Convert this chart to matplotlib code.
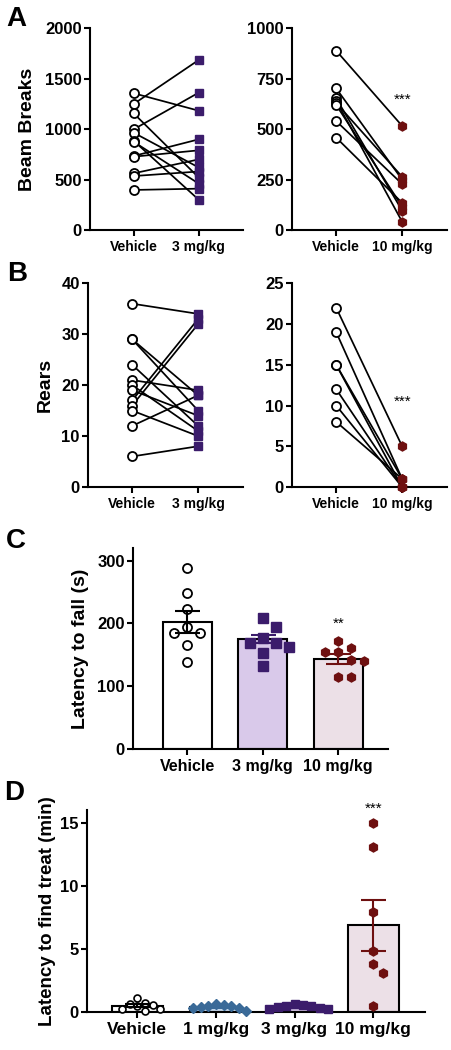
import numpy as np
import matplotlib.pyplot as plt
from matplotlib import transforms

plt.rcParams["font.family"] = ["Liberation Sans", "DejaVu Sans"]
plt.rcParams["font.weight"] = "bold"
plt.rcParams["axes.labelweight"] = "bold"

PURPLE = "#3b1c6b"
DARKRED = "#6e1010"
BLUE = "#3a6a98"

# A: beam breaks, paired per animal
beam_veh_3 = [1356, 1249, 1157, 998, 965, 885, 875, 734, 727, 562, 535, 397]
beam_drug_3 = [1183, 1686, 520, 1362, 620, 300, 460, 899, 790, 700, 580, 410]
beam_veh_10 = [889, 702, 653, 640, 630, 620, 540, 458]
beam_drug_10 = [516, 250, 96, 41, 264, 116, 228, 135]

# B: rears, paired per animal
rears_veh_3 = [36, 29, 29, 24, 21, 20, 19, 17, 16, 15, 12, 6]
rears_drug_3 = [34, 18, 15, 12, 19, 11, 14, 33, 32, 10, 18, 8]
rears_veh_10 = [22, 19, 15, 15, 12, 10, 8]
rears_drug_10 = [5, 1, 0, 1, 0, 0, 1]

# C: latency to fall
rotarod_groups = ["Vehicle", "3 mg/kg", "10 mg/kg"]
rotarod_points = [
    [288, 249, 223, 194, 184, 184, 166, 139],
    [209, 195, 177, 168, 168, 163, 153, 132],
    [172, 161, 155, 155, 142, 140, 114, 114],
]
rotarod_mean = [202, 175, 143]
rotarod_sem = [17, 6, 8]

# D: latency to find treat
treat_groups = ["Vehicle", "1 mg/kg", "3 mg/kg", "10 mg/kg"]
treat_points = [
    [1.1, 0.7, 0.6, 0.55, 0.5, 0.25, 0.2, 0.05],
    [0.6, 0.55, 0.5, 0.45, 0.4, 0.35, 0.3, 0.1],
    [0.6, 0.55, 0.5, 0.45, 0.4, 0.3, 0.25, 0.2],
    [15, 13.1, 7.9, 4.8, 3.8, 3.1, 0.45],
]
treat_mean = [0.5, 0.4, 0.4, 6.86]
treat_sem = [0.1, 0.06, 0.05, 2.05]

W, H = 451, 1050
fig = plt.figure(figsize=(W / 100, H / 100), dpi=100)


def add_axes_px(left, right, top, bottom):
    return fig.add_axes([left / W, 1 - bottom / H, (right - left) / W, (bottom - top) / H])


def style_axes(ax, xfs, yfs):
    ax.spines[["top", "right"]].set_visible(False)
    for s in ("left", "bottom"):
        ax.spines[s].set_linewidth(1.5)
    ax.tick_params(axis="both", direction="out", length=4, width=1.5)
    ax.tick_params(axis="x", labelsize=xfs, pad=3)
    ax.tick_params(axis="y", labelsize=yfs, pad=2)


def set_ylabel_px(ax, text, right_px, fs):
    ax.set_ylabel(text, fontsize=fs)
    trans = transforms.blended_transform_factory(fig.transFigure, ax.transAxes)
    ax.yaxis.set_label_coords(right_px / W, 0.5, transform=trans)


def paired(ax, veh, drug, marker, color, ms, yticks, labels, stars=None):
    for v, d in zip(veh, drug):
        ax.plot([0, 1], [v, d], color="black", lw=1.25, zorder=2, clip_on=False)
    ax.plot(np.zeros(len(veh)), veh, "o", ms=6.5, mfc="white", mec="black",
            mew=1.3, ls="none", zorder=3, clip_on=False)
    ax.plot(np.ones(len(drug)), drug, marker, ms=ms, mfc=color, mec=color,
            ls="none", zorder=3, clip_on=False)
    ax.set_xlim(-0.67, 1.68)
    ax.set_ylim(yticks[0], yticks[-1])
    ax.set_yticks(yticks)
    ax.set_xticks([0, 1])
    ax.set_xticklabels(labels)
    if stars is not None:
        ax.text(1, stars, "***", ha="center", va="center", fontsize=11,
                fontweight="normal")


def swarm_x(ax, x0, values, diam_px, step_px):
    # simple beeswarm: centre first, then alternate right/left
    trans = ax.transData
    placed = []
    xs = []
    for v in values:
        px, py = trans.transform((x0, v))
        k = 0
        while True:
            step = (k + 1) // 2 * (1 if k % 2 == 1 else -1)
            cand = px + step * step_px
            if all(np.hypot(cand - qx, py - qy) >= diam_px for qx, qy in placed):
                break
            k += 1
        placed.append((cand, py))
        xs.append(trans.inverted().transform((cand, py))[0])
    return xs


# ---- A ----
ax = add_axes_px(90, 243, 28.3, 230)
style_axes(ax, 10, 12)
paired(ax, beam_veh_3, beam_drug_3, "s", PURPLE, 6.3,
       [0, 500, 1000, 1500, 2000], ["Vehicle", "3 mg/kg"])
set_ylabel_px(ax, "Beam Breaks", 36, 14)

ax = add_axes_px(292, 447, 28.3, 230)
style_axes(ax, 10, 12)
paired(ax, beam_veh_10, beam_drug_10, "h", DARKRED, 6.5,
       [0, 250, 500, 750, 1000], ["Vehicle", "10 mg/kg"], stars=645)

# ---- B ----
ax = add_axes_px(88, 243, 283.3, 487)
style_axes(ax, 10, 12)
paired(ax, rears_veh_3, rears_drug_3, "s", PURPLE, 6.3,
       [0, 10, 20, 30, 40], ["Vehicle", "3 mg/kg"])
set_ylabel_px(ax, "Rears", 54, 14)

ax = add_axes_px(292, 447, 283.3, 487)
style_axes(ax, 10, 12)
paired(ax, rears_veh_10, rears_drug_10, "h", DARKRED, 6.5,
       [0, 5, 10, 15, 20, 25], ["Vehicle", "10 mg/kg"], stars=10.5)

# ---- C ----
ax = add_axes_px(133, 388, 548, 749)
style_axes(ax, 11.5, 12)
ax.set_xlim(-0.72, 2.66)
ax.set_ylim(0, 320)
ax.set_yticks([0, 100, 200, 300])
ax.set_xticks(range(3))
ax.set_xticklabels(rotarod_groups)
set_ylabel_px(ax, "Latency to fall (s)", 89, 14)
c_fill = ["white", "#d9c9ea", "#ece0e7"]
c_col = ["black", PURPLE, DARKRED]
c_mark = ["o", "s", "h"]
ax.bar(range(3), rotarod_mean, width=0.65, color=c_fill, edgecolor="black",
       linewidth=1.5, zorder=1)
for i, pts in enumerate(rotarod_points):
    xs = swarm_x(ax, i, pts, 10, 13)
    if i == 0:
        ax.plot(xs, pts, "o", ms=6.5, mfc="white", mec="black", mew=1.3,
                ls="none", zorder=3)
    else:
        ax.plot(xs, pts, c_mark[i], ms=6.5, mfc=c_col[i], mec=c_col[i],
                ls="none", zorder=3)
    ax.errorbar(i, rotarod_mean[i], yerr=rotarod_sem[i], color=c_col[i],
                capsize=9, elinewidth=1.5, capthick=1.5, zorder=4)
ax.text(2, 199, "**", ha="center", va="center", fontsize=11, fontweight="normal")

# ---- D ----
ax = add_axes_px(87, 425, 810, 1012)
style_axes(ax, 12.5, 12)
ax.set_xlim(-0.64, 3.66)
ax.set_ylim(0, 16)
ax.set_yticks([0, 5, 10, 15])
ax.set_xticks(range(4))
ax.set_xticklabels(treat_groups)
set_ylabel_px(ax, "Latency to find treat (min)", 56, 13.5)
d_fill = ["white", "#c9dbee", "#d9c9ea", "#ece0e7"]
d_col = ["black", BLUE, PURPLE, DARKRED]
d_mark = ["o", "D", "s", "h"]
d_ms = [5, 5, 5.5, 6.5]
ax.bar(range(4), treat_mean, width=0.65, color=d_fill, edgecolor="black",
       linewidth=1.5, zorder=1)
for i, pts in enumerate(treat_points):
    d = d_ms[i] / 0.72
    xs = swarm_x(ax, i, pts, d, d * 1.1)
    if i == 0:
        ax.plot(xs, pts, "o", ms=d_ms[i], mfc="white", mec="black", mew=1.2,
                ls="none", zorder=3, clip_on=False)
    else:
        ax.plot(xs, pts, d_mark[i], ms=d_ms[i], mfc=d_col[i], mec=d_col[i],
                ls="none", zorder=3, clip_on=False)
    ax.errorbar(i, treat_mean[i], yerr=treat_sem[i], color=d_col[i],
                capsize=9, elinewidth=1.5, capthick=1.5, zorder=4)
ax.text(3, 16.1, "***", ha="center", va="center", fontsize=11,
        fontweight="normal", clip_on=False)

# panel letters
for letter, xp, yp in [("A", 6, 19), ("B", 7, 274), ("C", 6, 541), ("D", 4, 793)]:
    fig.text(xp / W, 1 - yp / H, letter, fontsize=20, fontweight="bold",
             ha="left", va="center")

fig.savefig("out.png", dpi=100)
